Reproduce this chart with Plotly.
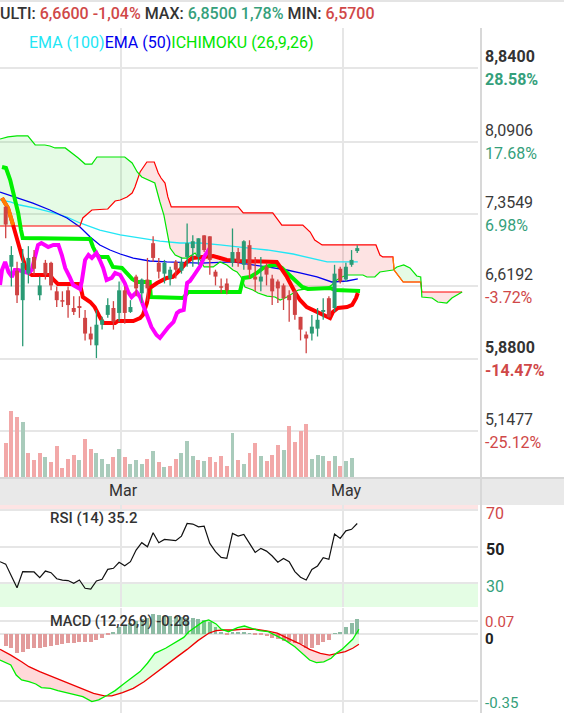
import numpy as np
import plotly.graph_objects as go

W, H = 564, 713

# ---- daily candles (x = session index, 0 = first visible session) ----
opens = [7.43, 6.82, 6.78, 6.48, 6.75, 6.92, 6.53, 6.86, 6.86, 6.57, 6.48, 6.58, 6.40, 6.42, 6.30, 6.14,
         6.02, 6.23, 6.33, 6.40, 6.35, 6.58, 6.36, 6.72, 6.55, 6.69, 7.06, 6.86, 6.75, 6.70, 6.87, 6.78,
         6.92, 7.01, 6.92, 7.14, 7.13, 6.77, 6.62, 6.65, 6.86, 6.97, 6.84, 7.04, 6.72, 6.67, 6.82, 6.70,
         6.67, 6.63, 6.53, 6.57, 6.31, 6.13, 6.14, 6.19, 6.36, 6.50, 6.40, 6.80, 6.69, 6.84, 6.98]
highs = [7.44, 7.03, 6.87, 7.00, 7.03, 6.99, 6.72, 6.89, 6.87, 6.62, 6.57, 6.62, 6.52, 6.52, 6.38, 6.21,
         6.38, 6.31, 6.50, 6.47, 6.67, 6.62, 6.48, 6.74, 6.70, 6.91, 7.13, 6.91, 6.89, 6.82, 6.89, 6.92,
         7.26, 7.14, 7.11, 7.14, 7.13, 6.79, 6.70, 6.70, 7.21, 7.01, 7.09, 7.09, 6.92, 6.92, 6.86, 6.74,
         6.69, 6.65, 6.58, 6.58, 6.31, 6.16, 6.33, 6.40, 6.50, 6.52, 6.84, 6.82, 6.86, 6.99, 7.04]
lows = [7.11, 6.62, 6.45, 6.01, 6.65, 6.74, 6.48, 6.69, 6.58, 6.41, 6.41, 6.30, 6.33, 6.30, 6.07, 6.02,
        5.89, 6.18, 6.30, 6.18, 6.26, 6.24, 6.35, 6.52, 6.45, 6.47, 6.87, 6.70, 6.65, 6.63, 6.70, 6.75,
        6.82, 6.82, 6.84, 6.97, 6.74, 6.63, 6.55, 6.54, 6.82, 6.82, 6.79, 6.70, 6.57, 6.57, 6.63, 6.43,
        6.45, 6.38, 6.26, 6.28, 6.07, 5.94, 6.07, 6.11, 6.28, 6.30, 6.36, 6.65, 6.67, 6.82, 6.96]
closes = [7.25, 6.94, 6.53, 6.86, 6.91, 6.80, 6.63, 6.74, 6.63, 6.48, 6.465, 6.43, 6.36, 6.40, 6.14, 6.08,
          6.23, 6.28, 6.43, 6.26, 6.58, 6.35, 6.41, 6.60, 6.69, 6.60, 6.91, 6.77, 6.86, 6.79, 6.79, 6.87,
          7.06, 7.08, 7.11, 6.99, 6.89, 6.72, 6.61, 6.58, 6.97, 6.87, 7.08, 6.79, 6.69, 6.72, 6.74, 6.57,
          6.60, 6.50, 6.48, 6.33, 6.18, 6.09, 6.21, 6.28, 6.38, 6.31, 6.75, 6.67, 6.82, 6.89, 7.01]

# volume in thousands, and whether the bar is coloured as an up (1) or down (-1) session
volume = [347, 673, 613, 563, 253, 183, 253, 213, 163, 323, 103, 193, 233, 183, 393, 293,
          253, 193, 143, 213, 293, 213, 143, 183, 143, 193, 273, 163, 107, 117, 187, 247,
          367, 217, 177, 167, 207, 157, 217, 117, 447, 177, 137, 247, 347, 217, 167, 227,
          327, 277, 517, 357, 467, 537, 187, 227, 217, 167, 217, 117, 167, 197, 7]
volume_side = [-1, -1, -1, 1, -1, -1, -1, 1, -1, -1, -1, -1, -1, 1, -1, -1,
               1, 1, 1, -1, 1, -1, 1, 1, 1, -1, 1, -1, 1, -1, -1, 1,
               1, 1, -1, 1, -1, -1, -1, -1, 1, -1, 1, -1, -1, 1, -1, -1,
               -1, 1, -1, -1, -1, -1, 1, 1, 1, -1, 1, -1, 1, 1, 1]

# ---- Ichimoku (26,9,26) ----
span_a_x = [-1.0, 0.4, 2.0, 3.9, 5.2, 6.9, 7.8, 8.7, 10.5, 11.7, 12.8, 14.0, 15.2, 16.1, 21.0, 22.3,
            23.2, 24.0, 25.1, 26.3, 27.2, 27.9, 28.4, 29.0, 29.9, 31.1, 32.0, 33.4, 34.3, 35.0, 36.6,
            37.8, 39.0, 40.1, 40.8, 41.5, 42.2, 43.6, 44.5, 46.1, 47.5, 48.4, 49.6, 50.7, 51.6, 53.1,
            55.4, 56.7, 57.5, 58.4, 59.3, 60.2, 63.0, 63.7, 65.1, 66.0, 68.3, 69.0, 70.2, 71.3, 72.5,
            73.2, 73.4, 75.2, 76.2, 77.8, 78.7, 80.5]
span_a = [8.121, 8.142, 8.152, 8.152, 8.060, 8.060, 8.050, 8.030, 8.030, 7.979, 7.928, 7.866, 7.866,
          7.938, 7.938, 7.877, 7.785, 7.734, 7.704, 7.673, 7.480, 7.347, 7.194, 7.011, 6.940, 6.909,
          6.909, 6.960, 6.889, 6.818, 6.818, 6.869, 6.838, 6.787, 6.767, 6.716, 6.614, 6.583, 6.553,
          6.522, 6.512, 6.482, 6.512, 6.553, 6.583, 6.594, 6.594, 6.604, 6.634, 6.685, 6.716, 6.736,
          6.736, 6.716, 6.716, 6.767, 6.787, 6.818, 6.838, 6.808, 6.726, 6.716, 6.512, 6.502, 6.461,
          6.451, 6.502, 6.563]
span_b_x = [-1.0, 13.1, 13.6, 15.2, 18.0, 18.7, 19.3, 20.2, 21.4, 22.3, 22.8, 23.7, 24.9, 26.2, 26.9,
            27.4, 28.1, 28.6, 29.2, 41.0, 41.9, 47.1, 47.8, 48.7, 52.4, 53.7, 54.5, 55.8, 65.3, 66.0,
            66.5, 68.3, 68.5, 70.1, 73.2, 73.4, 80.5]
span_b = [7.235, 7.235, 7.317, 7.398, 7.408, 7.449, 7.490, 7.500, 7.531, 7.571, 7.632, 7.785, 7.887,
          7.887, 7.775, 7.724, 7.673, 7.531, 7.429, 7.429, 7.368, 7.368, 7.317, 7.245, 7.245, 7.174,
          7.093, 7.042, 7.042, 6.940, 6.920, 6.920, 6.787, 6.665, 6.665, 6.563, 6.563]
tenkan_x = [-0.65, 0.4, 1.3, 2.0, 2.9, 3.4, 3.9, 4.6, 7.8, 8.3, 9.2, 13.1, 13.6, 14.9, 15.7, 16.6,
            17.2, 19.3, 19.8, 22.5, 23.7, 24.2, 24.9, 25.4, 26.7, 28.4, 29.5, 30.7, 32.0, 32.9, 34.3,
            36.6, 37.8, 39.0, 41.3, 47.8, 48.4, 49.6, 51.0, 51.9, 53.1, 54.2, 55.4, 56.7, 57.2, 57.7,
            58.6, 60.2, 61.1, 61.8, 62.1]
tenkan = [7.520, 7.419, 7.245, 7.093, 6.920, 6.838, 6.767, 6.736, 6.736, 6.696, 6.645, 6.645, 6.512,
          6.461, 6.410, 6.308, 6.247, 6.247, 6.268, 6.268, 6.298, 6.329, 6.451, 6.604, 6.655, 6.706,
          6.716, 6.787, 6.869, 6.909, 6.920, 6.930, 6.909, 6.889, 6.879, 6.869, 6.818, 6.716, 6.563,
          6.482, 6.410, 6.380, 6.349, 6.308, 6.298, 6.359, 6.400, 6.410, 6.431, 6.502, 6.553]
kijun_x = [-0.65, 0.05, 0.8, 1.6, 2.2, 2.7, 3.0, 14.9, 15.4, 16.1, 16.6, 18.0, 18.9, 20.5, 21.4, 22.3,
           23.2, 25.4, 25.6, 31.3, 32.2, 41.3, 41.9, 43.1, 44.3, 45.4, 47.0, 47.8, 48.7, 49.6, 50.5,
           51.4, 52.3, 53.3, 56.0, 57.2, 58.1, 62.5]
kijun = [7.836, 7.826, 7.704, 7.531, 7.368, 7.194, 7.113, 7.103, 7.021, 6.940, 6.920, 6.920, 6.818,
         6.808, 6.757, 6.696, 6.665, 6.665, 6.512, 6.502, 6.563, 6.563, 6.706, 6.716, 6.757, 6.808,
         6.838, 6.838, 6.808, 6.757, 6.706, 6.655, 6.614, 6.594, 6.594, 6.604, 6.584, 6.573]
chikou_x = [-1.0, -0.65, -0.1, 0.5, 1.1, 1.6, 2.2, 3.4, 4.0, 4.6, 5.2, 5.7, 6.3, 7.5, 8.4, 9.3, 9.9,
            10.5, 11.3, 11.9, 13.1, 13.4, 14.0, 14.6, 15.2, 16.0, 16.6, 17.2, 17.8, 18.7, 19.3, 20.2,
            21.0, 21.6, 22.2, 23.1, 23.7, 24.3, 24.9, 25.7, 26.6, 27.2, 27.8, 28.7, 29.6, 30.2, 30.7,
            31.4, 32.0, 32.5, 33.0, 34.3, 35.1, 36.0]
chikou = [6.634, 6.787, 6.869, 6.767, 6.716, 6.787, 6.787, 6.767, 6.757, 6.787, 6.920, 7.042, 7.062,
          7.021, 7.042, 7.042, 6.940, 6.807, 6.716, 6.634, 6.594, 6.665, 6.889, 6.940, 6.909, 6.960,
          6.889, 6.807, 6.685, 6.706, 6.757, 6.736, 6.655, 6.563, 6.512, 6.563, 6.512, 6.431, 6.329,
          6.207, 6.125, 6.095, 6.146, 6.207, 6.258, 6.349, 6.370, 6.380, 6.655, 6.675, 6.716, 6.828,
          6.930, 7.011]

# ---- moving averages ----
ema100_x = [-1.0, 0.8, 2.5, 5.2, 7.8, 10.8, 13.1, 16.6, 20.2, 23.7, 27.2, 30.7, 34.3, 37.8, 41.3,
            46.1, 50.7, 53.7, 56.7, 62.1]
ema100 = [7.500, 7.480, 7.449, 7.418, 7.378, 7.327, 7.266, 7.194, 7.144, 7.113, 7.082, 7.062, 7.062,
          7.042, 7.021, 6.991, 6.950, 6.909, 6.869, 6.869]
ema50_x = [-1.0, 2.0, 4.8, 7.8, 10.8, 13.1, 14.9, 16.6, 18.4, 20.2, 22.5, 25.4, 28.4, 34.3, 40.1,
           46.1, 49.6, 51.9, 54.9, 57.5, 60.2, 62.1]
ema50 = [7.581, 7.520, 7.469, 7.398, 7.317, 7.225, 7.123, 7.042, 6.991, 6.950, 6.909, 6.879, 6.869,
         6.858, 6.869, 6.818, 6.787, 6.757, 6.716, 6.665, 6.675, 6.696]

# ---- RSI (14), one value per session from index -1 ----
rsi = [41.8, 40.5, 34.0, 27.6, 36.4, 36.3, 36.2, 33.1, 36.7, 35.8, 32.5, 31.7, 31.5, 30.0, 31.8, 27.3,
       26.8, 31.3, 32.2, 37.6, 38.2, 41.5, 39.6, 41.8, 48.2, 52.2, 50.0, 57.6, 52.2, 54.0, 53.6, 53.3,
       55.8, 62.7, 62.4, 60.9, 61.3, 51.8, 47.3, 44.2, 43.6, 57.3, 55.8, 56.7, 51.8, 46.9, 49.1, 47.6,
       44.9, 41.5, 43.6, 41.8, 36.4, 33.3, 31.8, 37.6, 39.5, 44.0, 43.1, 56.9, 54.5, 58.7, 59.5, 62.7]

# ---- MACD (12,26,9) ----
macd_hist = [-0.061, -0.075, -0.098, -0.093, -0.081, -0.075, -0.072, -0.067, -0.063, -0.058, -0.053,
             -0.049, -0.046, -0.042, -0.042, -0.040, -0.032, -0.019, -0.003, 0.012, 0.035, 0.047,
             0.056, 0.070, 0.077, 0.083, 0.105, 0.100, 0.097, 0.095, 0.091, 0.091, 0.086, 0.083,
             0.079, 0.074, 0.065, 0.039, 0.012, -0.005, 0.007, 0.009, 0.009, 0.005, -0.004, -0.005,
             -0.011, -0.019, -0.028, -0.035, -0.040, -0.046, -0.054, -0.072, -0.075, -0.058, -0.040,
             -0.032, 0.004, 0.012, 0.039, 0.060, 0.077]
macd_x = [-1.0, 0.9, 1.85, 2.8, 4.1, 5.3, 6.3, 7.9, 9.2, 11.1, 12.6, 13.6, 15.2, 16.4, 18.0, 19.3,
          20.9, 22.2, 23.7, 25.0, 26.3, 28.2, 30.1, 31.4, 32.3, 33.6, 34.8, 35.8, 37.1, 38.0, 39.3,
          40.9, 42.1, 43.4, 44.7, 46.3, 47.9, 49.4, 51.0, 52.3, 53.6, 54.8, 56.1, 57.4, 58.3, 59.3,
          60.2, 61.2, 62.3]
macd = [-0.137, -0.163, -0.216, -0.242, -0.251, -0.263, -0.282, -0.286, -0.298, -0.312, -0.321,
        -0.330, -0.356, -0.347, -0.321, -0.298, -0.260, -0.233, -0.198, -0.154, -0.102, -0.075,
        -0.040, -0.018, 0.012, 0.039, 0.065, 0.074, 0.053, 0.025, 0.012, 0.033, 0.042, 0.030, 0.018,
        0.012, -0.014, -0.035, -0.067, -0.102, -0.137, -0.151, -0.147, -0.128, -0.102, -0.081,
        -0.058, -0.028, 0.025]
signal_x = [-1.0, 0.9, 2.8, 4.1, 6.0, 7.9, 9.8, 11.7, 13.6, 15.5, 17.4, 18.7, 20.6, 22.5, 24.4, 26.3,
            28.2, 30.1, 32.0, 33.9, 35.8, 37.1, 38.3, 40.2, 42.1, 44.0, 46.0, 47.9, 49.8, 51.7, 53.6,
            55.5, 57.1, 58.6, 59.9, 61.2, 62.3]
signal = [-0.081, -0.111, -0.146, -0.172, -0.198, -0.221, -0.242, -0.268, -0.291, -0.312, -0.326,
          -0.326, -0.309, -0.286, -0.251, -0.207, -0.163, -0.123, -0.081, -0.035, 0.004, 0.018, 0.021,
          0.021, 0.026, 0.025, 0.016, 0.004, -0.023, -0.049, -0.081, -0.102, -0.111, -0.102, -0.093,
          -0.075, -0.054]

month_ticks = [20.3, 59.5]
month_labels = ["Mar", "May"]

price_ticks = [8.84, 8.0906, 7.3549, 6.6192, 5.88, 5.1477]
price_labels = ["8,8400", "8,0906", "7,3549", "6,6192", "5,8800", "5,1477"]
pct_labels = ["28.58%", "17.68%", "6.98%", "-3.72%", "-14.47%", "-25.12%"]

# ---- colours ----
UP, DOWN = "#2a9a74", "#cf4343"
TXT = "#333333"
LBL_GREEN, LBL_RED = "#35a07b", "#d04848"
GRID = "#e6e6e6"
FONT = "Roboto"


def py(px):
    return 1 - px / H


def fill_regions(xa, ya, xb, yb, step=0.02):
    """Split the band between two lines into pieces where a is above / below b."""
    lo, hi = max(xa[0], xb[0]), min(xa[-1], xb[-1])
    g = np.arange(lo, hi + step / 2, step)
    a = np.interp(g, xa, ya)
    b = np.interp(g, xb, yb)
    above = a >= b
    out, s, n = [], 0, len(g)
    for k in range(1, n + 1):
        if k == n or above[k] != above[s]:
            e = min(k + 1, n)
            gx = g[s:e]
            out.append((bool(above[s]), np.concatenate([gx, gx[::-1]]),
                        np.concatenate([a[s:e], b[s:e][::-1]])))
            s = k
    return out


def segments(idx, lo, hi):
    xs, ys = [], []
    for i, a, b in zip(idx, lo, hi):
        xs += [i, i, None]
        ys += [a, b, None]
    return xs, ys


fig = go.Figure()

# ichimoku cloud
for up, fx, fy in fill_regions(span_a_x, span_a, span_b_x, span_b):
    fig.add_trace(go.Scatter(x=fx, y=fy, fill="toself", mode="none", hoverinfo="skip",
                             fillcolor="rgba(0,220,0,0.10)" if up else "rgba(240,0,0,0.11)"))

line_specs = [
    (ema100_x, ema100, "#22e6f5", 1.3),
    (ema50_x, ema50, "#0000ee", 1.3),
    (span_b_x, span_b, "#ff0000", 1.2),
    (span_a_x, span_a, "#00e600", 1.2),
    (kijun_x, kijun, "#00f000", 4),
    (tenkan_x, tenkan, "#ff0000", 4),
    (tenkan_x[:3], tenkan[:3], "#ff8000", 4),
    (chikou_x, chikou, "#ff00ff", 4),
]
for lx, ly, col, w in line_specs:
    fig.add_trace(go.Scatter(x=lx, y=ly, mode="lines", line=dict(color=col, width=w),
                             hoverinfo="skip"))

# orange stretch of span B under the small green cloud
orange_b = [(x, y) for x, y in zip(span_b_x, span_b) if 68.3 <= x <= 73.2]
fig.add_trace(go.Scatter(x=[p[0] for p in orange_b], y=[p[1] for p in orange_b], mode="lines",
                         line=dict(color="#ff8000", width=1.2), hoverinfo="skip"))

# candles drawn as wick + body segments
idx = list(range(len(closes)))
for side, col in ((1, UP), (-1, DOWN)):
    sel = [i for i in idx if (closes[i] >= opens[i]) == (side == 1)]
    wx, wy = segments(sel, [lows[i] for i in sel], [highs[i] for i in sel])
    fig.add_trace(go.Scatter(x=wx, y=wy, mode="lines", line=dict(color=col, width=1.3),
                             hoverinfo="skip"))
    blo = [min(opens[i], closes[i]) for i in sel]
    bhi = [max(opens[i], closes[i]) for i in sel]
    blo = [min(l, (l + h) / 2 - 0.008) for l, h in zip(blo, bhi)]
    bhi = [max(h, (l + h) / 2 + 0.008) for l, h in zip(blo, bhi)]
    bx, by = segments(sel, blo, bhi)
    fig.add_trace(go.Scatter(x=bx, y=by, mode="lines", line=dict(color=col, width=4),
                             hoverinfo="skip"))

# volume on an overlaid axis
fig.add_trace(go.Bar(x=idx, y=volume, yaxis="y2", width=0.7,
                     marker=dict(color=["#a9cbbb" if s > 0 else "#f2a8a8" for s in volume_side],
                                 line_width=0),
                     hoverinfo="skip"))

# RSI
rsi_x = list(range(-1, len(rsi) - 1))
fig.add_trace(go.Scatter(x=rsi_x, y=rsi, xaxis="x2", yaxis="y3", mode="lines",
                         line=dict(color="#111111", width=1.2), hoverinfo="skip"))

# MACD
fig.add_trace(go.Bar(x=idx, y=macd_hist, xaxis="x3", yaxis="y4", width=0.7,
                     marker=dict(color=["#8dbba4" if v >= 0 else "#e29b9b" for v in macd_hist],
                                 line_width=0),
                     hoverinfo="skip"))
for up, fx, fy in fill_regions(macd_x, macd, signal_x, signal):
    fig.add_trace(go.Scatter(x=fx, y=fy, xaxis="x3", yaxis="y4", fill="toself", mode="none",
                             hoverinfo="skip",
                             fillcolor="rgba(0,255,0,0.12)" if up else "rgba(255,0,0,0.15)"))
fig.add_trace(go.Scatter(x=signal_x, y=signal, xaxis="x3", yaxis="y4", mode="lines",
                         line=dict(color="#ee0000", width=1.3), hoverinfo="skip"))
fig.add_trace(go.Scatter(x=macd_x, y=macd, xaxis="x3", yaxis="y4", mode="lines",
                         line=dict(color="#00ee00", width=1.3), hoverinfo="skip"))

X_DOM = [0, 478 / W]
X_RANGE = [-1.005, 83.3]
xcommon = dict(domain=X_DOM, range=X_RANGE, tickvals=month_ticks, showticklabels=False,
               showgrid=True, gridcolor=GRID, gridwidth=2, zeroline=False, showline=False, ticks="")
ycommon = dict(showticklabels=False, showgrid=True, gridcolor=GRID, gridwidth=2, zeroline=False,
               showline=False, ticks="")

annotations = []


def note(text, x, y, xref="paper", yref="paper", size=16, color=TXT, weight="normal",
         xanchor="left", yanchor="middle", yshift=0, xshift=0, pad=1):
    annotations.append(dict(text=text, x=x, y=y, xref=xref, yref=yref, showarrow=False,
                            xanchor=xanchor, yanchor=yanchor, yshift=yshift, xshift=xshift,
                            borderpad=pad,
                            font=dict(family=FONT, size=size, color=color, weight=weight)))


# header
note(f"ULTI: <span style='color:{LBL_RED}'>6,6600 -1,04%</span> MAX: "
     f"<span style='color:{LBL_GREEN}'>6,8500 1,78%</span> MIN: "
     f"<span style='color:{LBL_RED}'>6,5700</span>",
     0, py(13), size=16, weight=500, xshift=-2)
# indicator legend
note("<span style='color:#22e6f5'>EMA (100)</span><span style='color:#0000ee'>EMA (50)</span>"
     "<span style='color:#00e600'>ICHIMOKU (26,9,26)</span>", 27 / W, py(43), size=16)

# price scale
for v, ptxt, pct in zip(price_ticks, price_labels, pct_labels):
    bold = ptxt in ("8,8400", "5,8800")
    wt = "bold" if bold else "normal"
    pcol = LBL_GREEN if not pct.startswith("-") else LBL_RED
    note(ptxt, 483 / W, v, yref="y", size=16, weight=wt, yanchor="bottom", color=TXT if bold else "#3a3a3a")
    note(pct, 483 / W, v, yref="y", size=16, weight=wt, yanchor="top", color=pcol)

# month labels
for t, lab in zip(month_ticks, month_labels):
    note(lab, t, py(491), xref="x", size=16, xanchor="center", xshift=3)

# RSI scale and title
note("RSI (14) 35.2", 48 / W, py(518), size=15, weight=500)
note("70", 484 / W, 70, yref="y3", size=16, color=LBL_RED, yshift=-3)
note("50", 484 / W, 50, yref="y3", size=16, color="#222222", weight="bold", yshift=-3)
note("30", 484 / W, 30, yref="y3", size=16, color=LBL_GREEN, yshift=-3)

# MACD scale and title
note("MACD (12,26,9) -0.28", 48 / W, py(621), size=14.5, weight=500)
note("0.07", 484 / W, py(622), size=15, color=LBL_RED, pad=0)
note("0", 484 / W, py(639), size=15, color="#222222", weight="bold", pad=0)
note("-0.35", 484 / W, py(712.5), size=15, color=LBL_GREEN, yanchor="bottom", pad=0)

shapes = [
    dict(type="rect", xref="paper", yref="paper", x0=0, x1=1, y0=py(2), y1=1,
         fillcolor="#e4e4e4", line_width=0, layer="below"),
    dict(type="rect", xref="paper", yref="paper", x0=0, x1=1, y0=py(505), y1=py(478),
         fillcolor="#e9e9e9", line_width=0, layer="below"),
    dict(type="line", xref="paper", yref="paper", x0=0, x1=1, y0=py(478), y1=py(478),
         line=dict(color="#d6d6d6", width=2)),
    dict(type="rect", xref="paper", yref="y3", x0=0, x1=X_DOM[1], y0=70, y1=100,
         fillcolor="#fde4e4", line_width=0, layer="below"),
    dict(type="rect", xref="paper", yref="y3", x0=0, x1=X_DOM[1], y0=0, y1=30,
         fillcolor="#e4fde4", line_width=0, layer="below"),
    dict(type="line", xref="paper", yref="paper", x0=481 / W, x1=481 / W, y0=0, y1=py(28),
         line=dict(color="#d8d8d8", width=2)),
]

fig.update_layout(
    width=W, height=H,
    margin=dict(l=0, r=0, t=0, b=0),
    paper_bgcolor="white", plot_bgcolor="white",
    showlegend=False,
    xaxis=dict(xcommon, anchor="y"),
    yaxis=dict(ycommon, domain=[py(478), py(28)], range=[4.669, 9.2515], tickvals=price_ticks),
    yaxis2=dict(ycommon, overlaying="y", range=[0, 4500], showgrid=False, anchor="x"),
    xaxis2=dict(xcommon, anchor="y3"),
    yaxis3=dict(ycommon, domain=[py(607), py(505)], range=[17.05, 72.8], tickvals=[30, 50, 70],
                anchor="x2"),
    xaxis3=dict(xcommon, anchor="y4"),
    yaxis4=dict(ycommon, domain=[0, py(608)], range=[-0.4158, 0.1368], tickvals=[0.07, 0, -0.35],
                anchor="x3"),
    bargap=0,
    shapes=shapes,
    annotations=annotations,
)

fig.write_html("out.html", config={"displayModeBar": False},
               post_script="document.body.style.margin='0';")
